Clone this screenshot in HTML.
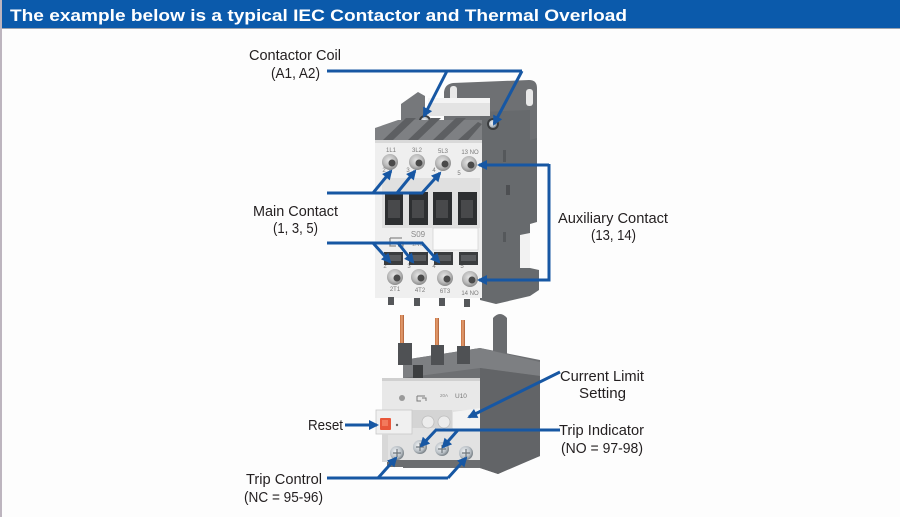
<!DOCTYPE html>
<html><head><meta charset="utf-8"><style>
html,body{margin:0;padding:0;background:#fdfdfd;}
body{width:900px;height:517px;overflow:hidden;position:relative;}
svg{position:absolute;left:0;top:0;}
</style></head><body>
<svg width="900" height="517" viewBox="0 0 900 517" xmlns="http://www.w3.org/2000/svg">
<defs>
<marker id="ah" viewBox="0 0 10 10" refX="8" refY="5" markerWidth="11" markerHeight="10" markerUnits="userSpaceOnUse" orient="auto">
<path d="M0,0 L10,5 L0,10 z" fill="#1757a3"/>
</marker>
<radialGradient id="term" cx="0.45" cy="0.4" r="0.6">
<stop offset="0" stop-color="#e6e6e6"/><stop offset="0.6" stop-color="#bdbdbd"/><stop offset="1" stop-color="#8a8a8a"/>
</radialGradient>
<radialGradient id="screw" cx="0.4" cy="0.4" r="0.6">
<stop offset="0" stop-color="#f2f4f6"/><stop offset="0.7" stop-color="#b9c0c6"/><stop offset="1" stop-color="#7c848a"/>
</radialGradient>
<linearGradient id="cu" x1="0" x2="1"><stop offset="0" stop-color="#c4703e"/><stop offset="0.5" stop-color="#e8a276"/><stop offset="1" stop-color="#a85a30"/></linearGradient>
</defs>

<!-- page frame -->
<rect x="0" y="0" width="900" height="517" fill="#fdfdfd"/>
<rect x="0" y="0" width="2" height="517" fill="#bdb5bf"/>
<rect x="2" y="0" width="898" height="28" fill="#0b5aab"/>
<rect x="2" y="28" width="898" height="1" fill="#9aa3b0"/>
<text x="10" y="21" font-family="Liberation Sans, sans-serif" font-weight="bold" font-size="17" fill="#ffffff" textLength="617" lengthAdjust="spacingAndGlyphs">The example below is a typical IEC Contactor and Thermal Overload</text>

<!-- ========== CONTACTOR ========== -->
<!-- back plate -->
<path d="M444,140 L444,92 Q445,84 453,83 L529,80 Q537,80 537,88 L537,140 Z" fill="#6e7073"/>
<rect x="450" y="86" width="7" height="17" rx="3" fill="#e9e9e9"/>
<rect x="526" y="89" width="7" height="17" rx="3" fill="#e9e9e9"/>
<!-- side panel -->
<path d="M480,112 L530,110 L530,140 L537,138 L537,222 L530,224 L530,268 L539,270 L539,290 L530,296 L496,304 L480,300 Z" fill="#676a6d"/>
<path d="M520,235 L530,233 L530,268 L520,268 Z" fill="#f2f2f2"/>
<rect x="506" y="185" width="4" height="10" fill="#4d4f52"/>
<rect x="503" y="150" width="3" height="12" fill="#55585b"/>
<rect x="503" y="232" width="3" height="10" fill="#55585b"/>
<!-- left fin -->
<path d="M401,104 L418,92 L425,96 L425,140 L401,140 Z" fill="#76787b"/>
<!-- top white block -->
<rect x="428" y="98" width="62" height="18" fill="#e3e3e3"/>
<rect x="428" y="98" width="62" height="5" fill="#f4f4f4"/>
<!-- screws top -->
<circle cx="425" cy="121" r="6" fill="#3a3c3e"/>
<circle cx="425" cy="121" r="4" fill="url(#screw)"/>
<circle cx="493" cy="124" r="6" fill="#3a3c3e"/>
<circle cx="493" cy="124" r="4" fill="url(#screw)"/>
<!-- top ramps -->
<path d="M375,128 L398,120 L482,120 L482,143 L375,143 Z" fill="#7e8083"/>
<path d="M383,140 L406,118 L416,118 L393,140 Z" fill="#5d5f62"/>
<path d="M408,140 L431,118 L441,118 L418,140 Z" fill="#5d5f62"/>
<path d="M433,140 L456,118 L466,118 L443,140 Z" fill="#5d5f62"/>
<path d="M458,140 L478,122 L482,124 L468,140 Z" fill="#5d5f62"/>
<!-- white face -->
<rect x="375" y="140" width="107" height="158" fill="#efefef"/>
<rect x="375" y="140" width="107" height="3" fill="#d9d9d9"/>
<!-- terminal labels top -->
<g font-family="Liberation Sans, sans-serif" font-size="6" fill="#7a7a7a" text-anchor="middle">
<text x="391" y="152">1L1</text><text x="417" y="152">3L2</text><text x="443" y="153">5L3</text><text x="470" y="154">13 NO</text>
<text x="384" y="172">2</text><text x="408" y="172">3</text><text x="434" y="172">4</text><text x="459" y="175">5</text>
<text x="395" y="291">2T1</text><text x="420" y="292">4T2</text><text x="445" y="293">6T3</text><text x="470" y="295">14 NO</text>
<text x="385" y="268">2</text><text x="409" y="268">3</text><text x="434" y="268">4</text><text x="462" y="268">5</text>
</g>
<!-- top terminals -->
<g>
<circle cx="390" cy="162" r="8" fill="url(#term)"/><circle cx="392" cy="163" r="3.5" fill="#4a4a4a"/>
<circle cx="417" cy="162" r="8" fill="url(#term)"/><circle cx="419" cy="163" r="3.5" fill="#4a4a4a"/>
<circle cx="443" cy="163" r="8" fill="url(#term)"/><circle cx="445" cy="164" r="3.5" fill="#4a4a4a"/>
<circle cx="469" cy="164" r="8" fill="url(#term)"/><circle cx="471" cy="165" r="3.5" fill="#4a4a4a"/>
</g>
<!-- slider windows -->
<g>
<rect x="382" y="178" width="24" height="50" fill="#e0e0e0"/>
<rect x="406" y="178" width="25" height="50" fill="#e0e0e0"/>
<rect x="431" y="178" width="24" height="50" fill="#e0e0e0"/>
<rect x="455" y="178" width="25" height="50" fill="#e0e0e0"/>
<rect x="385" y="192" width="18" height="33" fill="#2d2f31"/>
<rect x="409" y="192" width="19" height="33" fill="#2d2f31"/>
<rect x="433" y="192" width="19" height="33" fill="#2d2f31"/>
<rect x="458" y="192" width="19" height="33" fill="#2d2f31"/>
<rect x="388" y="200" width="12" height="18" fill="#48494b"/>
<rect x="412" y="200" width="12" height="18" fill="#48494b"/>
<rect x="436" y="200" width="12" height="18" fill="#48494b"/>
<rect x="461" y="200" width="12" height="18" fill="#48494b"/>
</g>
<!-- label -->
<rect x="433" y="228" width="45" height="22" fill="#fbfbfb" stroke="#d5d5d5" stroke-width="0.8"/>
<text x="418" y="237" font-family="Liberation Sans, sans-serif" font-size="8" fill="#8a8a8a" text-anchor="middle">S09</text>
<text x="418" y="246" font-family="Liberation Sans, sans-serif" font-size="6" fill="#9a9a9a" text-anchor="middle">1NO</text>
<path d="M390,238 L402,238 M390,238 L390,246 L396,246 M398,242 L403,242 L403,246 L398,246" stroke="#8a8a8a" stroke-width="1.3" fill="none"/>
<!-- bottom openings -->
<g fill="#3a3c3e">
<rect x="384" y="252" width="19" height="13"/>
<rect x="409" y="252" width="19" height="13"/>
<rect x="434" y="252" width="19" height="13"/>
<rect x="459" y="252" width="19" height="13"/>
</g>
<g fill="#595b5e">
<rect x="386" y="255" width="15" height="6"/><rect x="411" y="255" width="15" height="6"/><rect x="436" y="255" width="15" height="6"/><rect x="461" y="255" width="15" height="6"/>
</g>
<!-- bottom terminals -->
<g>
<circle cx="395" cy="277" r="8" fill="url(#term)"/><circle cx="397" cy="278" r="3.5" fill="#4a4a4a"/>
<circle cx="419" cy="277" r="8" fill="url(#term)"/><circle cx="421" cy="278" r="3.5" fill="#4a4a4a"/>
<circle cx="445" cy="278" r="8" fill="url(#term)"/><circle cx="447" cy="279" r="3.5" fill="#4a4a4a"/>
<circle cx="470" cy="279" r="8" fill="url(#term)"/><circle cx="472" cy="280" r="3.5" fill="#4a4a4a"/>
</g>
<!-- feet -->
<g fill="#55575a">
<rect x="388" y="297" width="6" height="8"/><rect x="414" y="298" width="6" height="8"/><rect x="439" y="298" width="6" height="8"/><rect x="464" y="299" width="6" height="8"/>
</g>

<!-- ========== OVERLOAD ========== -->
<!-- back post -->
<path d="M493,362 L493,318 Q500,310 507,318 L507,362 Z" fill="#6a6c6f"/>
<!-- copper pins -->
<rect x="400" y="315" width="4" height="32" fill="url(#cu)"/>
<rect x="435" y="318" width="4" height="30" fill="url(#cu)"/>
<rect x="461" y="320" width="4" height="28" fill="url(#cu)"/>
<!-- top body -->
<path d="M403,360 L480,348 L540,360 L540,456 L520,464 L498,474 L480,468 L403,468 Z" fill="#6d6f72"/>
<path d="M403,360 L480,348 L540,362 L540,376 L480,368 L403,378 Z" fill="#7d7f82"/>
<rect x="398" y="343" width="14" height="22" fill="#4f5154"/>
<rect x="431" y="345" width="13" height="20" fill="#4f5154"/>
<rect x="457" y="346" width="13" height="18" fill="#4f5154"/>
<rect x="413" y="365" width="10" height="13" fill="#3c3e40"/>
<!-- right side shade -->
<path d="M480,368 L540,376 L540,456 L498,474 L480,468 Z" fill="#626467"/>
<!-- white front -->
<rect x="382" y="378" width="98" height="32" fill="#e8e8e8"/>
<rect x="382" y="378" width="98" height="3" fill="#d0d0d0"/>
<rect x="382" y="410" width="98" height="52" fill="#e2e2e2"/>
<rect x="412" y="410" width="40" height="18" fill="#d4d4d4"/>
<circle cx="428" cy="422" r="6" fill="#ececec" stroke="#bdbdbd" stroke-width="0.8"/>
<circle cx="444" cy="422" r="6" fill="#ececec" stroke="#bdbdbd" stroke-width="0.8"/>
<path d="M453,412 L480,408 L480,430 L453,430 Z" fill="#f3f3f3"/>
<circle cx="402" cy="398" r="3" fill="#9a9a9a"/>
<path d="M417,396 L425,396 M417,396 L417,401 L421,401 M422,398 L426,398 L426,401" stroke="#7a7a7a" stroke-width="1" fill="none"/>
<text x="440" y="397" font-family="Liberation Sans, sans-serif" font-size="4.5" fill="#888">20A</text>
<text x="455" y="398" font-family="Liberation Sans, sans-serif" font-size="6.5" fill="#777">U10</text>
<!-- reset button -->
<rect x="376" y="410" width="36" height="24" fill="#f0f0f0" stroke="#c8c8c8" stroke-width="0.8"/>
<rect x="380" y="418" width="11" height="12" rx="1" fill="#e8573a"/>
<rect x="382" y="420" width="6" height="6" fill="#f27a5c"/>
<circle cx="397" cy="425" r="1.2" fill="#666"/>
<!-- bottom dark band -->
<rect x="387" y="460" width="93" height="7" fill="#6b6d70"/>
<rect x="382" y="434" width="6" height="28" fill="#d8d8d8"/>
<!-- screws -->
<g>
<circle cx="397" cy="453" r="7" fill="url(#screw)"/><path d="M393,453 L401,453 M397,449 L397,457" stroke="#6e767c" stroke-width="1.2"/>
<circle cx="420" cy="447" r="7" fill="url(#screw)"/><path d="M416,447 L424,447 M420,443 L420,451" stroke="#6e767c" stroke-width="1.2"/>
<circle cx="442" cy="449" r="7" fill="url(#screw)"/><path d="M438,449 L446,449 M442,445 L442,453" stroke="#6e767c" stroke-width="1.2"/>
<circle cx="466" cy="453" r="7" fill="url(#screw)"/><path d="M462,453 L470,453 M466,449 L466,457" stroke="#6e767c" stroke-width="1.2"/>
</g>

<!-- ========== ARROWS ========== -->
<g stroke="#1757a3" stroke-width="3" fill="none" stroke-linecap="butt">
<!-- contactor coil -->
<path d="M327,71 L522,71"/>
<path d="M447,71 L424,116" marker-end="url(#ah)"/>
<path d="M522,71 L494,124" marker-end="url(#ah)"/>
<!-- main contact upper -->
<path d="M327,193 L423,193"/>
<path d="M373,193 L391,171" marker-end="url(#ah)"/>
<path d="M397,193 L415,171" marker-end="url(#ah)"/>
<path d="M422,193 L440,173" marker-end="url(#ah)"/>
<!-- main contact lower -->
<path d="M327,243 L423,243"/>
<path d="M373,243 L390,262" marker-end="url(#ah)"/>
<path d="M398,243 L413,262" marker-end="url(#ah)"/>
<path d="M422,243 L439,262" marker-end="url(#ah)"/>
<!-- auxiliary -->
<path d="M549,165 L479,165" marker-end="url(#ah)"/>
<path d="M549,164 L549,280 L479,280" marker-end="url(#ah)"/>
<!-- reset -->
<path d="M345,425 L377,425" marker-end="url(#ah)"/>
<!-- trip control -->
<path d="M327,478 L448,478"/>
<path d="M378,478 L396,458" marker-end="url(#ah)"/>
<path d="M448,478 L466,458" marker-end="url(#ah)"/>
<!-- current limit -->
<path d="M560,372 L469,417" marker-end="url(#ah)"/>
<!-- trip indicator -->
<path d="M560,430 L435,430"/>
<path d="M436,430 L421,446" marker-end="url(#ah)"/>
<path d="M458,430 L443,447" marker-end="url(#ah)"/>
</g>

<!-- ========== LABELS ========== -->
<g font-family="Liberation Sans, sans-serif" font-size="14.5" fill="#231f20" lengthAdjust="spacingAndGlyphs">
<text x="249" y="60" textLength="92" lengthAdjust="spacingAndGlyphs">Contactor Coil</text>
<text x="271" y="78" textLength="49" lengthAdjust="spacingAndGlyphs">(A1, A2)</text>
<text x="253" y="216" textLength="85" lengthAdjust="spacingAndGlyphs">Main Contact</text>
<text x="273" y="233" textLength="45" lengthAdjust="spacingAndGlyphs">(1, 3, 5)</text>
<text x="558" y="223" textLength="110" lengthAdjust="spacingAndGlyphs">Auxiliary Contact</text>
<text x="591" y="240" textLength="45" lengthAdjust="spacingAndGlyphs">(13, 14)</text>
<text x="308" y="430" textLength="35" lengthAdjust="spacingAndGlyphs">Reset</text>
<text x="246" y="484" textLength="76" lengthAdjust="spacingAndGlyphs">Trip Control</text>
<text x="244" y="502" textLength="79" lengthAdjust="spacingAndGlyphs">(NC = 95-96)</text>
<text x="560" y="381" textLength="84" lengthAdjust="spacingAndGlyphs">Current Limit</text>
<text x="579" y="398" textLength="47" lengthAdjust="spacingAndGlyphs">Setting</text>
<text x="559" y="435" textLength="85" lengthAdjust="spacingAndGlyphs">Trip Indicator</text>
<text x="561" y="453" textLength="82" lengthAdjust="spacingAndGlyphs">(NO = 97-98)</text>
</g>
</svg>
</body></html>
